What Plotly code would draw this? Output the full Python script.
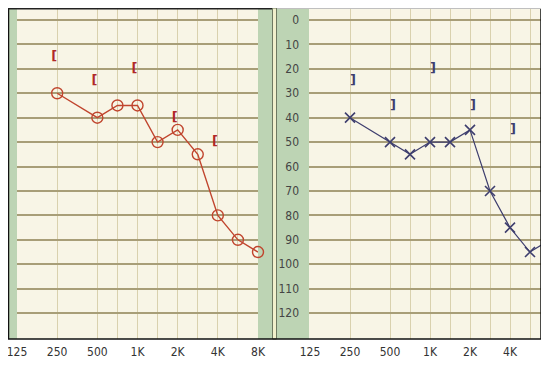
import plotly.graph_objects as go

# Frequency slots of the audiogram form (octaves + inter-octaves, equally spaced)
freq_slots = ["125", "180", "250", "375", "500", "750", "1000", "1500",
              "2000", "3000", "4000", "6000", "8000"]
octave_vals = ["125", "250", "500", "1000", "2000", "4000", "8000"]
octave_text = ["125", "250", "500", "1K", "2K", "4K", "8K"]
half_vals = ["750", "1500", "3000", "6000"]
db_ticks = [0, 10, 20, 30, 40, 50, 60, 70, 80, 90, 100, 110, 120]

# Left panel (red, circles) - air conduction
red_freq = ["250", "500", "750", "1000", "1500", "2000", "3000", "4000", "6000", "8000"]
red_air = [30, 40, 35, 35, 50, 45, 55, 80, 90, 95]
# Left panel bone conduction "["
red_bone_freq = ["250", "500", "1000", "2000", "4000"]
red_bone = [15, 25, 20, 40, 50]

# Right panel (blue, crosses) - air conduction
blue_freq = ["250", "500", "750", "1000", "1500", "2000", "3000", "4000", "6000", "8000"]
blue_air = [40, 50, 55, 50, 50, 45, 70, 85, 95, 90]
# Right panel bone conduction "]"
blue_bone_freq = ["250", "500", "1000", "2000", "4000"]
blue_bone = [25, 35, 20, 35, 45]

# The page body has an 8px margin; figure is sized to fill the rest of the 549x371 window
OFF = 8
W, H = 549 - OFF, 371 - OFF
def px(x):
    return (x - OFF) / W
def py(y):
    return 1 - (y - OFF) / H

RED = "#c0452e"
BLUE = "#3e3e6e"
CREAM = "#f8f5e6"
GREEN = "#bdd4b4"
HGRID = "#a89e78"
VGRID = "#d9d1ae"
FONT = "Liberation Sans Narrow, Arial Narrow, DejaVu Sans Condensed, Roboto, sans-serif"

fig = go.Figure()

fig.add_trace(go.Scatter(
    x=red_freq, y=red_air, mode="lines+markers", xaxis="x", yaxis="y",
    line=dict(color=RED, width=1.4),
    marker=dict(symbol="circle-open", size=11, color=RED, line=dict(width=1.4)),
    cliponaxis=False, showlegend=False))
fig.add_trace(go.Scatter(
    x=red_bone_freq, y=red_bone, mode="text", text=["<b>[</b>"] * len(red_bone),
    textposition="middle left", xaxis="x", yaxis="y",
    textfont=dict(color="#b02828", size=13, family="DejaVu Sans"),
    showlegend=False))

fig.add_trace(go.Scatter(
    x=blue_freq, y=blue_air, mode="lines+markers", xaxis="x2", yaxis="y2",
    line=dict(color=BLUE, width=1.2),
    marker=dict(symbol="x-thin-open", size=10, color=BLUE, line=dict(width=1.6, color=BLUE)),
    showlegend=False))
fig.add_trace(go.Scatter(
    x=blue_bone_freq, y=blue_bone, mode="text", text=["<b>]</b>"] * len(blue_bone),
    textposition="middle right", xaxis="x2", yaxis="y2",
    textfont=dict(color=BLUE, size=13, family="DejaVu Sans"),
    showlegend=False))

tick_vals = octave_vals + half_vals
tick_text = octave_text + [""] * len(half_vals)

xcommon = dict(type="category", categoryorder="array", categoryarray=freq_slots,
               tickmode="array", tickvals=tick_vals, ticktext=tick_text,
               showgrid=True, gridcolor=VGRID, gridwidth=1, zeroline=False,
               showline=False, ticks="", ticklabelstandoff=4, automargin=False,
               tickfont=dict(family=FONT, size=12, color="#333333"))
ycommon = dict(range=[130.6, -4.9], tickmode="array", tickvals=db_ticks,
               showgrid=True, gridcolor=HGRID, gridwidth=1.5, zeroline=False,
               showline=False, ticks="", automargin=False,
               domain=[py(339), py(8)])

fig.update_layout(
    width=W, height=H, autosize=False,
    margin=dict(l=0, r=0, t=0, b=0, pad=0, autoexpand=False),
    paper_bgcolor="white", plot_bgcolor=CREAM,
    xaxis=dict(domain=[px(17), px(258)], range=[0, 12], anchor="y", **xcommon),
    yaxis=dict(anchor="x", showticklabels=False, **ycommon),
    xaxis2=dict(domain=[px(309), px(541)], range=[-0.05, 11.55], anchor="y2", **xcommon),
    yaxis2=dict(anchor="x2", showticklabels=True, ticklabelstandoff=9,
                tickfont=dict(family=FONT, size=12, color="#444444"), **ycommon),
)

shapes = [
    # green margin strips
    dict(type="rect", xref="paper", yref="paper", x0=px(8), x1=px(17), y0=py(339), y1=py(8),
         fillcolor=GREEN, line=dict(width=0), layer="below"),
    dict(type="rect", xref="paper", yref="paper", x0=px(258), x1=px(309), y0=py(339), y1=py(8),
         fillcolor=GREEN, line=dict(width=0), layer="below"),
    dict(type="rect", xref="paper", yref="paper", x0=px(272.5), x1=px(276.5), y0=py(339), y1=py(8),
         fillcolor="#f1f0cc", line=dict(width=1, color="#6f7a62"), layer="below"),
    # outer frame
    dict(type="line", xref="paper", yref="paper", x0=px(8.5), x1=px(8.5), y0=py(339), y1=py(8),
         line=dict(color="#111111", width=1.5)),
    dict(type="line", xref="paper", yref="paper", x0=px(8), x1=px(541), y0=py(339), y1=py(339),
         line=dict(color="#111111", width=1.5)),
    dict(type="line", xref="paper", yref="paper", x0=px(541), x1=px(541), y0=py(339), y1=py(8),
         line=dict(color="#111111", width=1.5)),
    dict(type="line", xref="paper", yref="paper", x0=px(8), x1=px(272), y0=py(8.7), y1=py(8.7),
         line=dict(color="#222222", width=1.4)),
    dict(type="line", xref="paper", yref="paper", x0=px(277), x1=px(541), y0=py(8.5), y1=py(8.5),
         line=dict(color="#bfbfbf", width=1)),
]
fig.update_layout(shapes=shapes)

fig.write_html("out.html")
